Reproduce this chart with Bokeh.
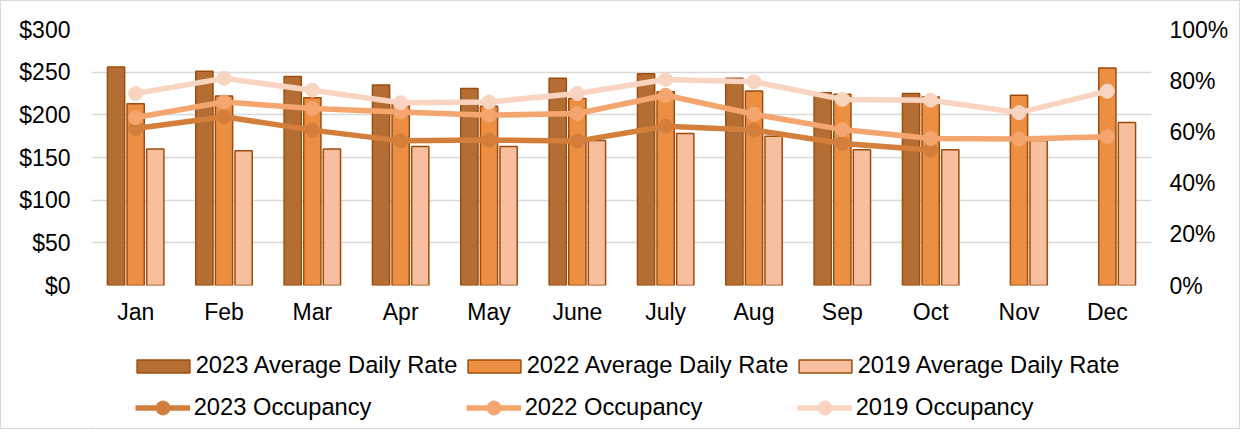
import math
from bokeh.plotting import figure
from bokeh.layouts import column
from bokeh.models import (FactorRange, Range1d, LinearAxis, FixedTicker, NumeralTickFormatter,
                          Legend, LegendItem, ColumnDataSource)
from bokeh.transform import dodge
from bokeh.embed import file_html
from bokeh.resources import INLINE

nan = float("nan")

months = ["Jan", "Feb", "Mar", "Apr", "May", "June", "July", "Aug", "Sep", "Oct", "Nov", "Dec"]
adr_2023 = [256, 251, 245, 235, 231, 243, 248, 243, 226, 225, nan, nan]
adr_2022 = [213, 222, 220, 212, 210, 219, 227, 228, 224, 221, 223, 255]
adr_2019 = [160, 158, 160, 163, 163, 170, 178, 175, 159, 159, 170, 191]
occ_2023 = [0.613, 0.659, 0.607, 0.565, 0.568, 0.564, 0.622, 0.607, 0.555, 0.529, nan, nan]
occ_2022 = [0.656, 0.717, 0.691, 0.678, 0.665, 0.672, 0.743, 0.669, 0.609, 0.574, 0.572, 0.581]
occ_2019 = [0.750, 0.809, 0.763, 0.714, 0.717, 0.750, 0.805, 0.796, 0.727, 0.724, 0.675, 0.759]

series_adr = ["2023 Average Daily Rate", "2022 Average Daily Rate", "2019 Average Daily Rate"]
series_occ = ["2023 Occupancy", "2022 Occupancy", "2019 Occupancy"]

src = ColumnDataSource(dict(month=months, a23=adr_2023, a22=adr_2022, a19=adr_2019,
                            o23=occ_2023, o22=occ_2022, o19=occ_2019))

FONT = "Liberation Sans"
AX_FS = "23px"
LG_FS = "23.7px"
EDGE = "#9E4C0C"
BAR_COLORS = ["#B46E33", "#EC8F42", "#F8BF9E"]
LINE_COLORS = ["#D47E3B", "#F5A56E", "#F9D4C1"]

W = 1238
H_MAIN = 330
H_LEG = 97

p = figure(width=W, height=H_MAIN, x_range=FactorRange(*months, range_padding=0),
           y_range=Range1d(0, 300), output_backend="svg", toolbar_location=None,
           min_border_left=90, min_border_right=88, min_border_top=28, min_border_bottom=46)
p.outline_line_color = None
p.background_fill_color = "white"
p.border_fill_color = "white"
p.extra_y_ranges = {"occ": Range1d(0, 1)}


def style_axis(ax, standoff):
    ax.major_label_standoff = standoff
    ax.major_tick_line_color = None
    ax.minor_tick_line_color = None
    ax.major_tick_out = 0
    ax.major_tick_in = 0
    ax.minor_tick_out = 0
    ax.minor_tick_in = 0
    ax.axis_line_color = None
    ax.major_label_text_font = FONT
    ax.major_label_text_font_size = AX_FS
    ax.major_label_text_color = "black"


style_axis(p.xaxis[0], 13)
p.yaxis.ticker = FixedTicker(ticks=[0, 50, 100, 150, 200, 250, 300])
p.yaxis.formatter = NumeralTickFormatter(format="$0")
style_axis(p.yaxis[0], 21)

ax2 = LinearAxis(y_range_name="occ", ticker=FixedTicker(ticks=[0, 0.2, 0.4, 0.6, 0.8, 1.0]),
                 formatter=NumeralTickFormatter(format="0%"))
style_axis(ax2, 18)
p.add_layout(ax2, "right")

p.xgrid.grid_line_color = None
p.ygrid.grid_line_color = "#D9D9D9"
p.ygrid.grid_line_width = 1.3
p.ygrid.ticker = FixedTicker(ticks=[0, 50, 100, 150, 200, 250, 300])

BW = 0.195
OFF = 0.222
for col, off, c in (("a23", -OFF, BAR_COLORS[0]), ("a22", 0, BAR_COLORS[1]), ("a19", OFF, BAR_COLORS[2])):
    p.vbar(x=dodge("month", off, range=p.x_range), top=col, width=BW, source=src,
           fill_color=c, line_color=EDGE, line_width=1.5)

for col, c in (("o23", LINE_COLORS[0]), ("o22", LINE_COLORS[1]), ("o19", LINE_COLORS[2])):
    p.line(x="month", y=col, source=src, line_color=c, line_width=5.5, y_range_name="occ")
    p.scatter(x="month", y=col, source=src, size=14, fill_color=c, line_color=c,
              y_range_name="occ")

# ---- legend strip (separate figure below the chart; its frame aligns with the chart's) ----
lp = figure(width=W, height=H_LEG, x_range=Range1d(0, 1), y_range=Range1d(0, 1),
            output_backend="svg", toolbar_location=None,
            x_axis_location=None, y_axis_location=None,
            min_border_left=90, min_border_right=88, min_border_top=0, min_border_bottom=0)
lp.outline_line_color = None
lp.grid.grid_line_color = None
lp.background_fill_color = "white"
lp.border_fill_color = "white"

# one point outside the visible range, only so the legend swatches get their styles
dummy = ColumnDataSource(dict(x=[-10], y=[-10]))
items1 = []
for name, c in zip(series_adr, BAR_COLORS):
    r = lp.vbar(x="x", top="y", width=0.1, source=dummy, fill_color=c, line_color=EDGE, line_width=1.5)
    items1.append(LegendItem(label=name, renderers=[r]))
items2 = []
for name, c in zip(series_occ, LINE_COLORS):
    rl = lp.line(x="x", y="y", source=dummy, line_color=c, line_width=5.5)
    rm = lp.scatter(x="x", y="y", source=dummy, size=14, fill_color=c, line_color=c)
    items2.append(LegendItem(label=name, renderers=[rl, rm]))

leg1 = Legend(items=items1, orientation="horizontal", location=(38.7, 49), margin=0, padding=0,
              spacing=0, glyph_width=66, glyph_height=16, label_standoff=0, label_width=265,
              label_text_font=FONT, label_text_font_size=LG_FS, label_text_color="black",
              border_line_color=None, background_fill_alpha=0)
leg2 = Legend(items=items2, orientation="horizontal", location=(43.7, 3), margin=0, padding=0,
              spacing=0, glyph_width=55, glyph_height=35, label_standoff=4, label_width=272,
              label_text_font=FONT, label_text_font_size=LG_FS, label_text_color="black",
              border_line_color=None, background_fill_alpha=0)
lp.add_layout(leg1, "center")
lp.add_layout(leg2, "center")

layout = column(p, lp, spacing=0)
layout.styles = {"border": "1px solid #D9D9D9"}

open("out.html", "w").write(file_html(layout, INLINE))
